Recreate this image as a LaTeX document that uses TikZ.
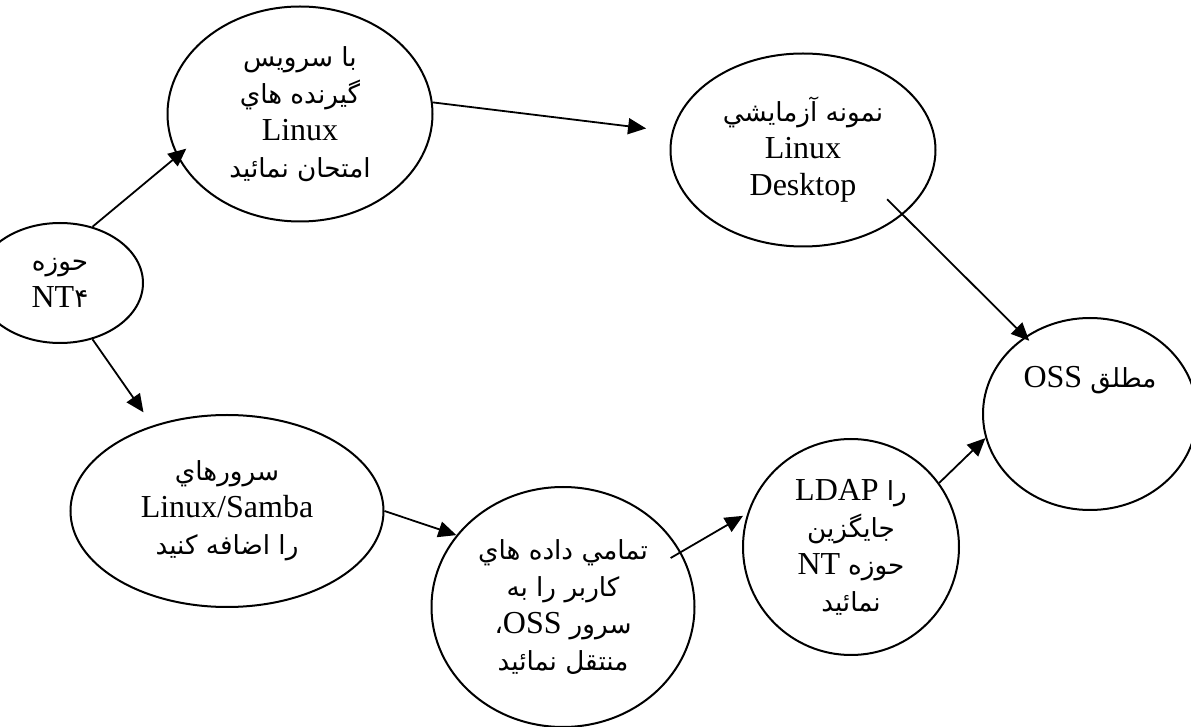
\documentclass[tikz,border=0pt]{standalone}
\usepackage{fontspec}
\setmainfont{Liberation Serif}
\newfontfamily\arabicfont[Script=Arabic,Scale=0.82]{DejaVu Sans}
\TeXXeTstate=1
\newcommand{\prs}[1]{{\arabicfont\beginR #1\endR}}
\usetikzlibrary{shapes.geometric,arrows.meta}

\tikzset{blob/.style={draw, ellipse, line width=1pt, inner sep=0pt, align=center,
    font=\fontsize{16}{18.5}\selectfont},
  link/.style={-{Triangle[length=9pt,width=8pt]}, line width=0.9pt}}

\begin{document}
\begin{tikzpicture}[x=0.5pt,y=-0.5pt]
\clip (0,0) rectangle (1191,727);
% start domain
\node[blob, minimum width=83pt, minimum height=60pt] (nt) at (60,283)
  {\prs{حوزه}\\NT{\arabicfont ۴}};
% upper path
\node[blob, minimum width=132.5pt, minimum height=107.5pt] (client) at (300,114)
  {\prs{با سرويس}\\\prs{گيرنده هاي}\\Linux\\\prs{امتحان نمائيد}};
\node[blob, minimum width=132.5pt, minimum height=96.5pt] (desk) at (803,150)
  {\prs{نمونه آزمايشي}\\Linux\\Desktop};
% goal
\node[blob, minimum width=107pt, minimum height=96pt] (oss) at (1090,414)
  {OSS \prs{مطلق}\\\mbox{}\\\mbox{}};
% lower path
\node[blob, minimum width=156.5pt, minimum height=96pt] (samba) at (227,511)
  {\prs{سرورهاي}\\Linux/Samba\\\prs{را اضافه کنيد}};
\node[blob, minimum width=131.5pt, minimum height=120pt] (data) at (563,607)
  {\prs{تمامي داده هاي}\\\prs{كاربر را به}\\\prs{،}OSS \prs{سرور}\\\prs{منتقل نمائيد}};
\node[blob, minimum width=108pt, minimum height=108pt] (ldap) at (851,547)
  {LDAP \prs{را}\\\prs{جايگزين}\\NT \prs{حوزه}\\\prs{نمائيد}};

\draw[link, shorten >=-6pt] (nt.60) -- (client.199);
\draw[link, shorten >=13pt] (client.5) -- (desk.172);
\draw[link, shorten <=-11pt, shorten >=-3pt] (desk.-33) -- (oss.130);
\draw[link, shorten >=8pt] (nt.-60) -- (samba.131);
\draw[link] (samba.east) -- (data.146);
\draw[link, shorten <=-6pt, shorten >=2.5pt] (data.25) -- (ldap.162);
\draw[link] (ldap.36) -- (oss.193);
\end{tikzpicture}
\end{document}
